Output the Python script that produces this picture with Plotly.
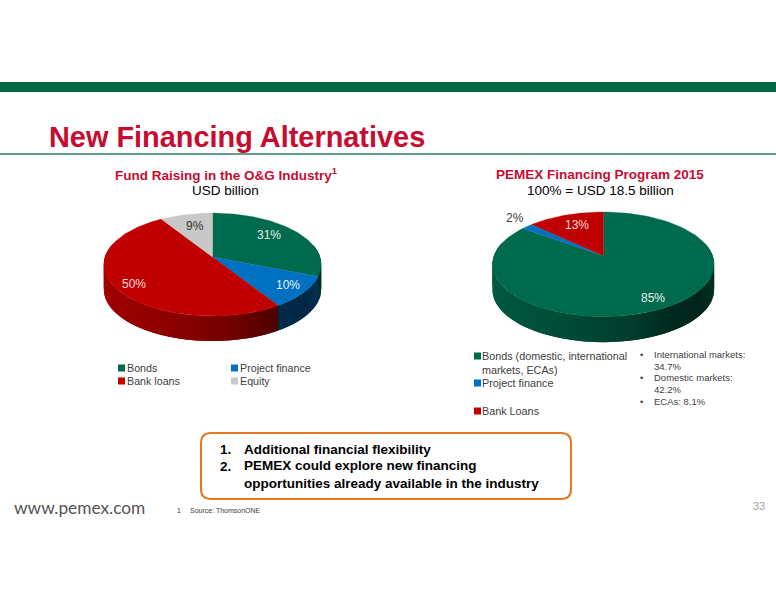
import numpy as np
import plotly.graph_objects as go

# ---- data -------------------------------------------------------------
fund_categories = ["Bonds", "Project finance", "Bank loans", "Equity"]
fund_values = [31, 10, 50, 9]
pemex_categories = ["Bonds (domestic, international<br>markets, ECAs)", "Project finance", "Bank Loans"]
pemex_values = [85, 2, 13]
bond_breakdown = ["International markets:<br>34.7%", "Domestic markets:<br>42.2%", "ECAs: 8.1%"]
takeaways = ["Additional financial flexibility",
             "PEMEX could explore new financing<br>opportunities already available in the industry"]

# ---- styles -----------------------------------------------------------
GREEN, BLUE, RED, GREY = "#006A4D", "#0070C0", "#C00000", "#C8C8C8"
TITLE_RED = "#C60C30"
ORANGE = "#E87722"
SANS = "Liberation Sans"
fund_colors = [GREEN, BLUE, RED, GREY]
pemex_colors = [GREEN, BLUE, RED]

fig = go.Figure()


def project(g, t):
    """clockwise angle from 12 o'clock -> screen position under perspective"""
    u, v = np.sin(t), np.cos(t)
    w = 1 + g["k"] * v
    return g["cx"] + g["R"] * u / w, g["cy"] - g["S"] * v / w


def shade(hex_color, f):
    r, gg, b = (int(hex_color[i:i + 2], 16) for i in (1, 3, 5))
    return f"rgb({r * f:.0f},{gg * f:.0f},{b * f:.0f})"


def pie3d(values, names, colors, g):
    total = sum(values)
    edges = np.concatenate([[0], np.cumsum(values)]) / total * 2 * np.pi
    # side wall, drawn first, in short strips getting darker to the right
    for i, col in enumerate(colors):
        n = max(2, int((edges[i + 1] - edges[i]) / np.radians(2)) + 1)
        ts = np.linspace(edges[i], edges[i + 1], n + 1)
        for a, b in zip(ts[:-1], ts[1:]):
            mid = (a + b) / 2
            if np.cos(mid) > 0.25:
                continue
            f = float(np.interp(np.sin(mid), [-1, -0.3, 0.2, 0.55, 0.8, 1],
                                [0.85, 0.72, 0.58, 0.38, 0.36, 0.5]))
            # each strip runs a little under its neighbour so no seams show
            seg = np.linspace(a, min(b + np.radians(2), edges[-1]), 5)
            x, y = project(g, seg)
            c = shade(col, f)
            fig.add_trace(go.Scatter(
                x=np.r_[x, x[::-1]], y=np.r_[y, y[::-1] + g["h"]], mode="lines",
                fill="toself", fillcolor=c, line=dict(color=c, width=0),
                hoverinfo="skip", showlegend=False))
    # top face
    for i, col in enumerate(colors):
        seg = np.linspace(edges[i], edges[i + 1], 120)
        x, y = project(g, seg)
        fig.add_trace(go.Scatter(
            x=np.r_[g["cx"], x, g["cx"]], y=np.r_[g["cy"], y, g["cy"]], mode="lines",
            fill="toself", fillcolor=col, line=dict(color=col, width=0.3),
            name=names[i].replace("<br>", " "), text=f"{values[i]}%",
            hoverinfo="name+text", showlegend=False))


left_geo = dict(cx=212.5, cy=257, R=107.5, S=50.4, k=0.146, h=25)
right_geo = dict(cx=603.3, cy=255.7, R=109.3, S=50.9, k=0.165, h=25.5)
pie3d(fund_values, fund_categories, fund_colors, left_geo)
pie3d(pemex_values, pemex_categories, pemex_colors, right_geo)


def txt(x, y, s, size=11, color="#404040", bold=False, anchor="left", family=SANS, align=None):
    if bold:
        s = f"<b>{s}</b>"
    fig.add_annotation(x=x, y=y, text=s, showarrow=False, xanchor=anchor, yanchor="middle",
                       align=align or anchor, xref="x", yref="y", borderpad=0, borderwidth=0,
                       font=dict(family=family, size=size, color=color))


shapes = [
    dict(type="rect", x0=0, x1=776, y0=82, y1=92, fillcolor="#006847", line_width=0, layer="below"),
    dict(type="line", x0=0, x1=776, y0=154, y1=154, line=dict(color="#2F7F66", width=1.5), layer="below"),
    dict(type="path", path="M 211 433 H 561 Q 571 433 571 443 V 489 Q 571 499 561 499 "
                           "H 211 Q 201 499 201 489 V 443 Q 201 433 211 433 Z",
         line=dict(color=ORANGE, width=2), fillcolor="white", layer="below"),
]


def swatch(x, y, col):
    shapes.append(dict(type="rect", x0=x, x1=x + 7, y0=y - 3.5, y1=y + 3.5, fillcolor=col, line_width=0))


# header
txt(49, 137, "New Financing Alternatives", 28.9, TITLE_RED, True)

# chart headings
txt(226, 174, "Fund Raising in the O&G Industry<sup>1</sup>", 13.5, TITLE_RED, True, "center")
txt(225, 190, "USD billion", 13.5, "#000000", False, "center")
txt(600, 174, "PEMEX Financing Program 2015", 13.5, TITLE_RED, True, "center")
txt(600, 190, "100% = USD 18.5 billion", 13.5, "#000000", False, "center")

# slice labels
for (x, y), v, c in zip([(269, 235), (288, 285), (134, 284), (195, 226)], fund_values,
                        ["#E8F0EC", "#E8F0F8", "#F4DCDC", "#333333"]):
    txt(x, y, f"{v}%", 12, c, False, "center")
for (x, y), v, c in zip([(653, 298), (515, 218), (577, 225)], pemex_values,
                        ["#E8F0EC", "#404040", "#F4DCDC"]):
    txt(x, y, f"{v}%", 12, c, False, "center")

# left legend
for (sx, sy), name, col in zip([(118, 368), (231, 368), (118, 381), (231, 381)], fund_categories, fund_colors):
    swatch(sx, sy, col)
    txt(sx + 9, sy, name, 10.7)

# right legend
swatch(474, 356, pemex_colors[0])
txt(482, 362.5, pemex_categories[0], 10.8)
swatch(474, 383, pemex_colors[1])
txt(482, 383, pemex_categories[1], 10.8)
swatch(474, 411, pemex_colors[2])
txt(482, 411, pemex_categories[2], 10.8)

# breakdown bullets
for y, line in zip([360.5, 383.5, 401], bond_breakdown):
    first_y = y - 5.75 if "<br>" in line else y
    txt(640, first_y, "•", 9.5, "#404040")
    txt(654, y, line, 9.5, "#404040")

# takeaway box
txt(220, 449, "1.", 13.5, "#000000", True)
txt(244, 449, takeaways[0], 13.5, "#000000", True)
txt(220, 466, "2.", 13.5, "#000000", True)
txt(244, 474.5, takeaways[1], 13.5, "#000000", True)

# footer
txt(14, 507, "www.pemex.com", 17.3, "#555555", False, "left", "Lato")
txt(177, 510, "1", 7, "#404040")
txt(190, 510, "Source: ThomsonONE", 7, "#404040")
txt(765, 506, "33", 11, "#A0A0A0", False, "right")

fig.update_layout(
    width=776, height=600, margin=dict(l=0, r=0, t=0, b=0),
    paper_bgcolor="white", plot_bgcolor="white", showlegend=False, shapes=shapes,
    xaxis=dict(range=[0, 776], visible=False, fixedrange=True),
    yaxis=dict(range=[600, 0], visible=False, fixedrange=True),
)
fig.write_html("out.html", config=dict(displayModeBar=False), include_plotlyjs=True,
               post_script="document.body.style.margin='0';document.documentElement.style.overflow='hidden';")
